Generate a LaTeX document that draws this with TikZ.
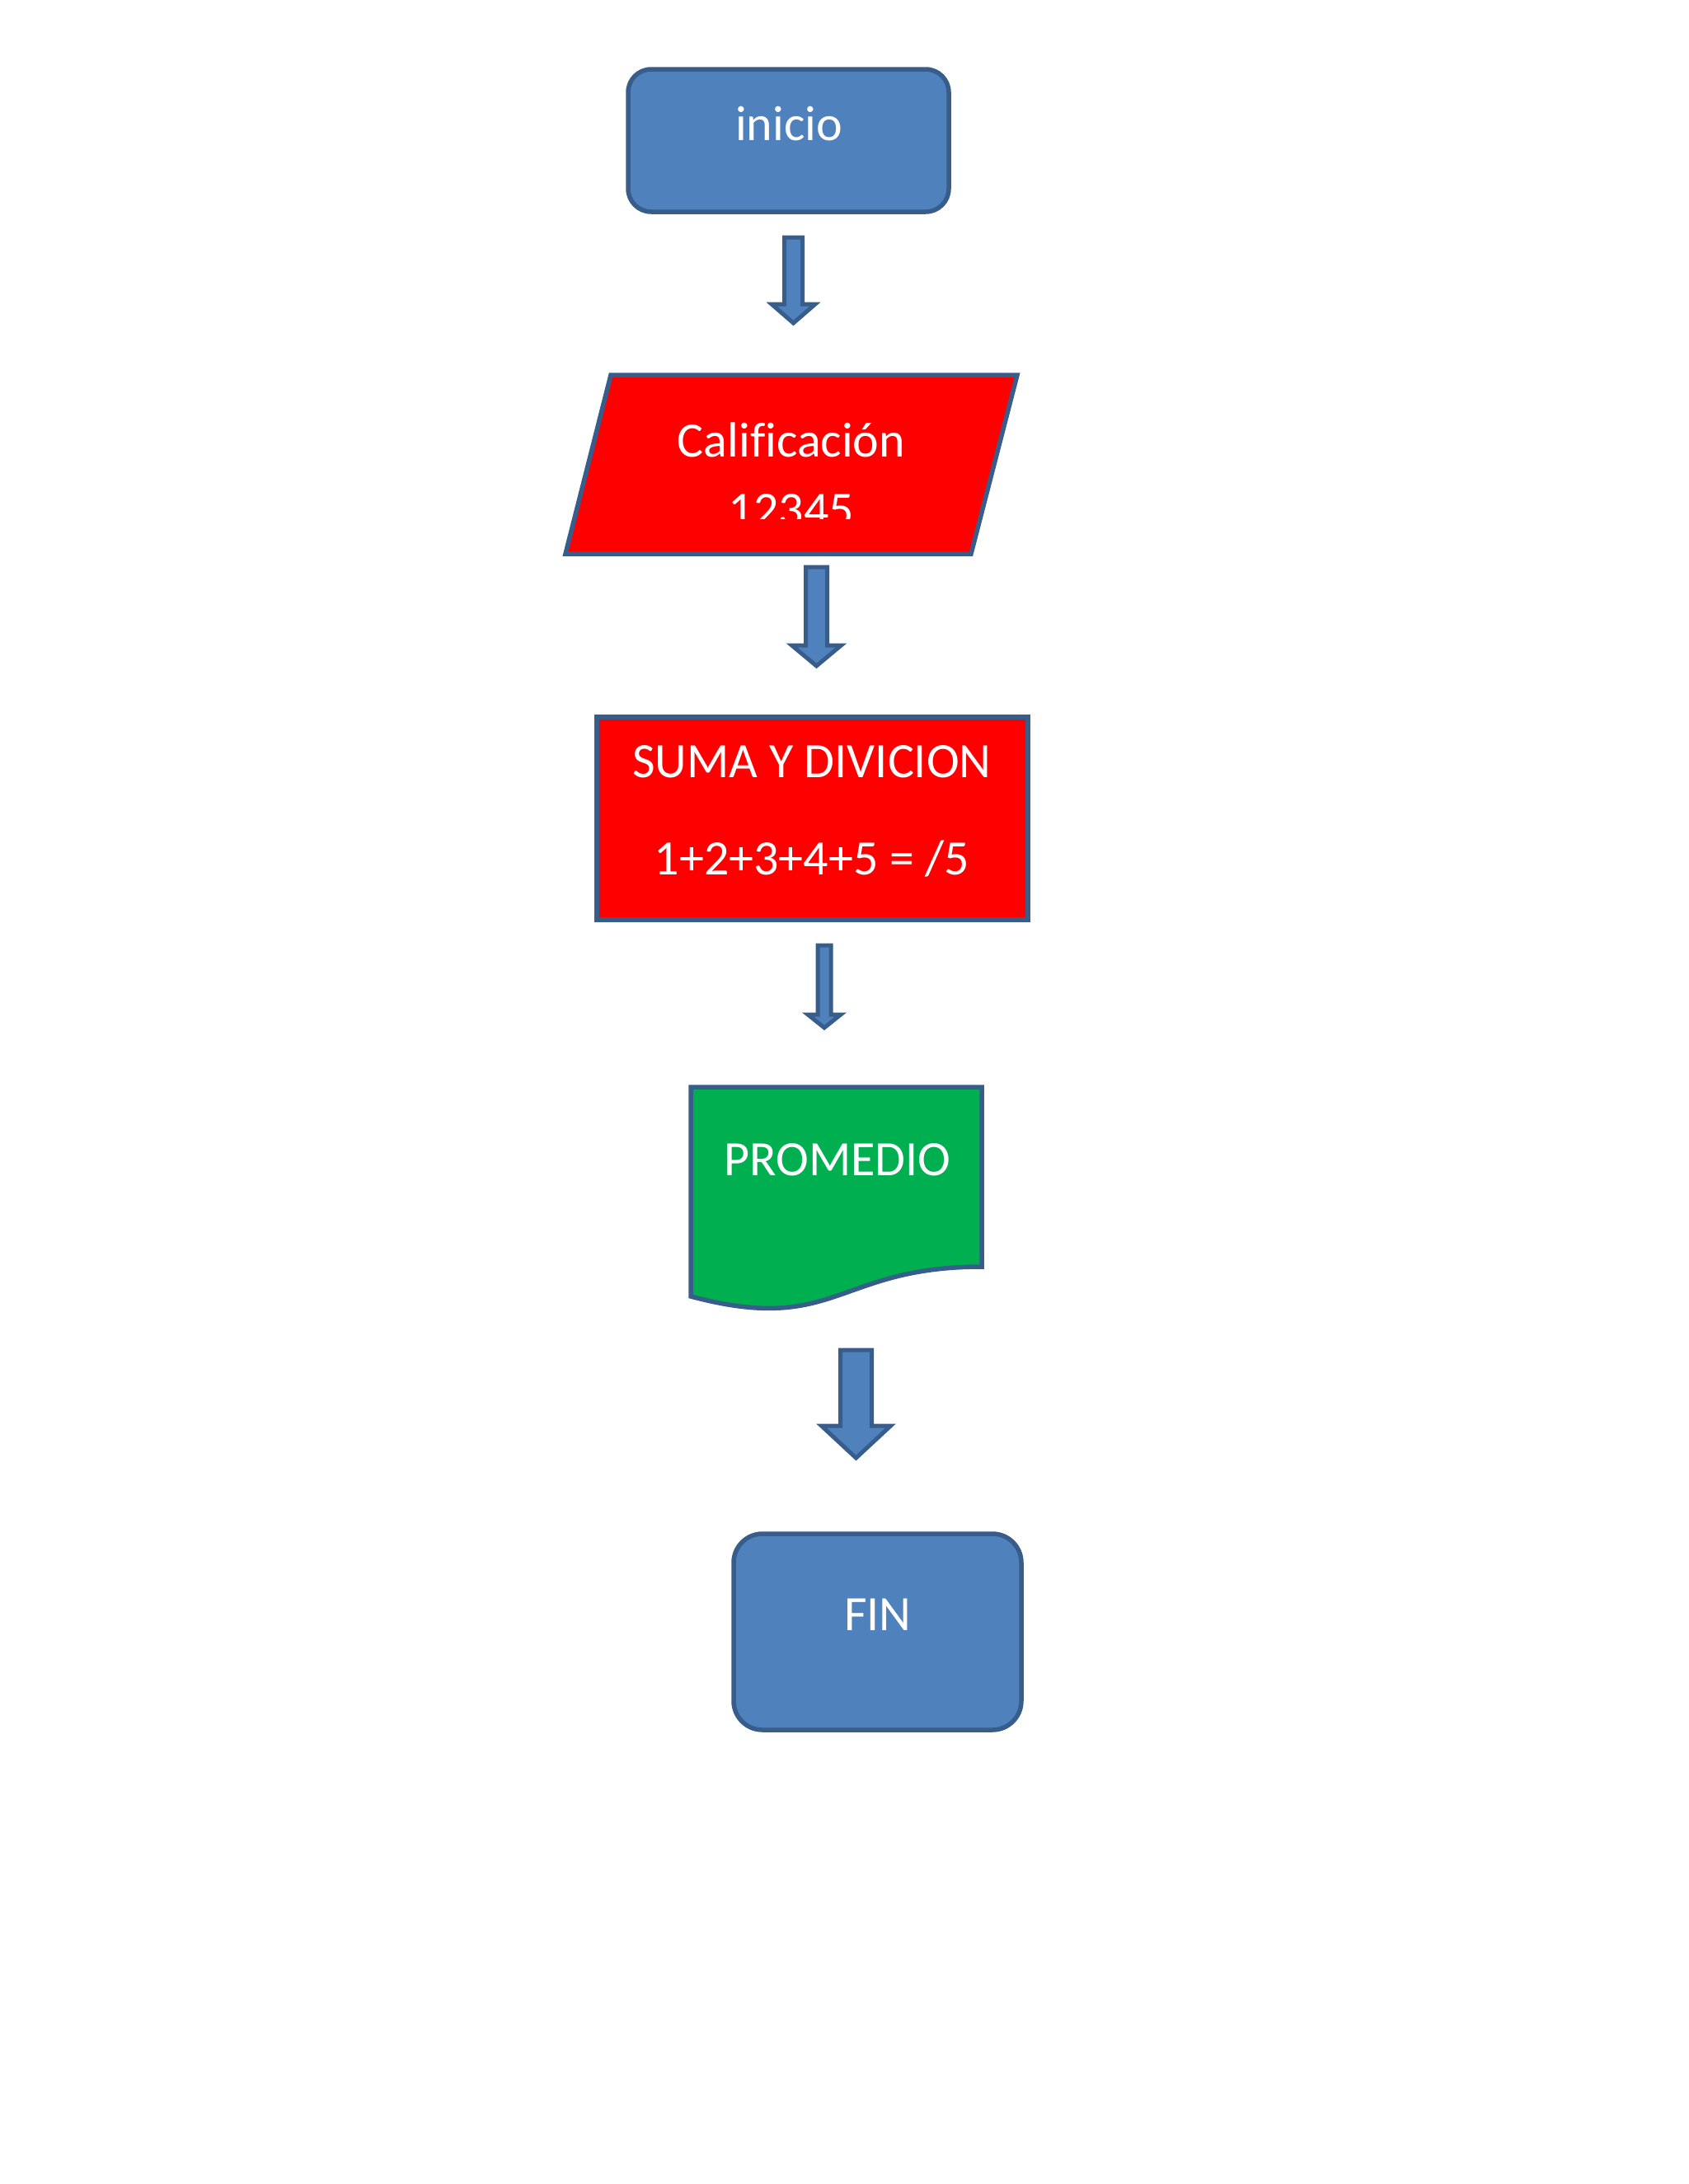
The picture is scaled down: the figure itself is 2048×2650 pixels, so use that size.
\documentclass[tikz,border=0pt]{standalone}
\usepackage{fontspec}
\setmainfont{Carlito}[Ligatures=CommonOff]
\definecolor{officeblue}{HTML}{4F81BD}
\definecolor{officeline}{HTML}{385D8A}
\definecolor{procred}{HTML}{FF0000}
\definecolor{outgreen}{HTML}{00B050}
\tikzset{
  shapeline/.style={draw=officeline, line width=5.5pt, line join=miter},
  termbox/.style={shapeline, fill=officeblue, rounded corners=30pt, rectangle, inner sep=0pt},
  procbox/.style={shapeline, fill=procred, rectangle, inner sep=0pt},
  txt/.style={text=white, font=\fontsize{60}{72}\selectfont, inner sep=0pt, anchor=base},
  blockarr/.style={draw=officeline, line width=5pt, fill=officeblue, line join=miter, miter limit=10}
}
% #1 centre x, #2 top, #3 head y, #4 tip y, #5 half shaft, #6 half head
\newcommand{\myblockarrow}[6]{%
  \draw[blockarr] (#1-#5,#2) -- (#1+#5,#2) -- (#1+#5,#3) -- (#1+#6,#3) -- (#1,#4)
    -- (#1-#6,#3) -- (#1-#5,#3) -- cycle;}
\begin{document}
\begin{tikzpicture}[x=1pt,y=-1pt]
\useasboundingbox[fill=white] (0,0) rectangle (2048,2650);

% inicio
\node[termbox, minimum width=389pt, minimum height=173pt, rounded corners=28pt] (inicio) at (956.5,170.5) {};
\node[txt] (tinicio) at (957,170) {inicio};

% arrow 1
\myblockarrow{962.5}{288}{369}{392}{11}{26.5}

% parallelogram
\draw[shapeline, fill=procred] (741,455) -- (1234,455) -- (1178,672) -- (686,672) -- cycle;
\coordinate (calif) at (960,563);
\node[txt] (tcalif) at (960,554) {Calificación};
\begin{scope}
  \clip (690,560) rectangle (1240,629);
  \node[txt] (tnums) at (960,638) {12345};
\end{scope}

% arrow 2
\myblockarrow{990.5}{688}{783}{808}{13}{30}

% process box
\node[procbox, minimum width=523pt, minimum height=246pt] (suma) at (985.5,993) {};
\node[txt] (tsuma) at (985,943) {SUMA Y DIVICION};
\node[txt] (tform) at (985,1061) {1+2+3+4+5 = /5};

% arrow 3
\myblockarrow{1000}{1147}{1231}{1247}{8}{20}

% document shape
\draw[shapeline, fill=outgreen] (838,1319) -- (1191,1319) -- (1191,1537)
  .. controls (1014.5,1537) and (1014.5,1620) .. (838,1573) -- cycle;
\node[txt] (tprom) at (1016,1426) {PROMEDIO};

% arrow 4
\myblockarrow{1038.5}{1638}{1730}{1769}{19}{42}

% FIN
\node[termbox, minimum width=349pt, minimum height=238pt, rounded corners=35pt] (fin) at (1064.5,1980) {};
\node[txt] (tfin) at (1065,1978) {FIN};
\end{tikzpicture}
\end{document}
